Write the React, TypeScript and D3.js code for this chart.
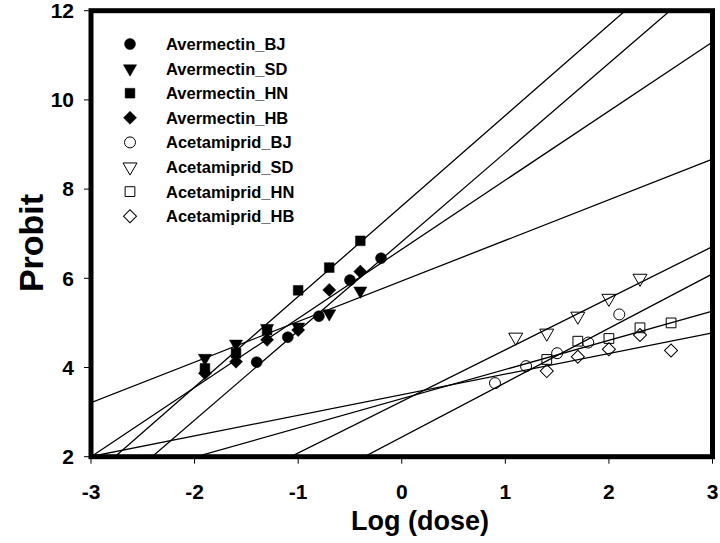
import React from "react";
import * as d3 from "d3";

// ---- data ----
const seriesNames = [
  "Avermectin_BJ",
  "Avermectin_SD",
  "Avermectin_HN",
  "Avermectin_HB",
  "Acetamiprid_BJ",
  "Acetamiprid_SD",
  "Acetamiprid_HN",
  "Acetamiprid_HB",
];

const avBJx = [-1.4, -1.1, -0.8, -0.5, -0.2];
const avBJy = [4.12, 4.68, 5.15, 5.96, 6.45];
const avSDx = [-1.9, -1.6, -1.3, -1.0, -0.7, -0.4];
const avSDy = [4.21, 4.53, 4.88, 4.91, 5.21, 5.72];
const avHNx = [-1.9, -1.6, -1.3, -1.0, -0.7, -0.4];
const avHNy = [3.98, 4.32, 4.84, 5.73, 6.24, 6.84];
const avHBx = [-1.9, -1.6, -1.3, -1.0, -0.7, -0.4];
const avHBy = [3.87, 4.13, 4.62, 4.84, 5.74, 6.15];
const acBJx = [0.9, 1.2, 1.5, 1.8, 2.1];
const acBJy = [3.65, 4.03, 4.32, 4.56, 5.19];
const acSDx = [1.1, 1.4, 1.7, 2.0, 2.3];
const acSDy = [4.68, 4.77, 5.15, 5.55, 6.0];
const acHNx = [1.4, 1.7, 2.0, 2.3, 2.6];
const acHNy = [4.18, 4.59, 4.65, 4.89, 5.0];
const acHBx = [1.4, 1.7, 2.0, 2.3, 2.6];
const acHBy = [3.92, 4.24, 4.41, 4.73, 4.38];

// regression lines: probit = intercept + slope * log(dose)
const lineSlopes = [2.0, 0.91, 2.03, 1.55, 1.22, 1.157, 0.655, 0.462];
const lineIntercepts = [6.82, 5.94, 7.62, 6.65, 2.44, 3.24, 3.3, 3.39];

const xTicks = [-3, -2, -1, 0, 1, 2, 3];
const yTicks = [2, 4, 6, 8, 10, 12];

const seriesX = [avBJx, avSDx, avHNx, avHBx, acBJx, acSDx, acHNx, acHBx];
const seriesY = [avBJy, avSDy, avHNy, avHBy, acBJy, acSDy, acHNy, acHBy];

// ---- layout ----
const W = 720;
const H = 543;
const left = 91;
const right = 712.5;
const top = 10.7;
const bottom = 456.7;
const FONT = "'Liberation Sans', Arial, sans-serif";

const x = d3.scaleLinear().domain([-3, 3]).range([left, right]);
const y = d3.scaleLinear().domain([2, 12]).range([bottom, top]);

type Shape = "circle" | "tri" | "square" | "diamond";
const shapes: Shape[] = ["circle", "tri", "square", "diamond", "circle", "tri", "square", "diamond"];

function markerPath(s: Shape, filled: boolean): { d: string; rot: number } {
  if (s === "circle") return { d: d3.symbol().type(d3.symbolCircle).size(filled ? 95 : 95)()!, rot: 0 };
  if (s === "tri") return { d: d3.symbol().type(d3.symbolTriangle).size(filled ? 75 : 85)()!, rot: 180 };
  if (s === "square") return { d: d3.symbol().type(d3.symbolSquare).size(filled ? 95 : 95)()!, rot: 0 };
  return { d: d3.symbol().type(d3.symbolSquare).size(filled ? 85 : 85)()!, rot: 45 };
}

function Marker({ cx, cy, i }: { cx: number; cy: number; i: number }) {
  const filled = i < 4;
  const { d, rot } = markerPath(shapes[i], filled);
  return (
    <path
      d={d}
      transform={`translate(${cx},${cy}) rotate(${rot})`}
      fill={filled ? "#000" : "none"}
      stroke="#000"
      strokeWidth={filled ? 0.5 : 1}
    />
  );
}

export default function App() {
  return (
    <svg
      width={W}
      height={H}
      style={{ position: "absolute", left: 0, top: 0, background: "#fff" }}
      fontFamily={FONT}
    >
      <defs>
        <clipPath id="plotclip">
          <rect x={left} y={top} width={right - left} height={bottom - top} />
        </clipPath>
      </defs>
      <rect x={0} y={0} width={W} height={H} fill="#fff" />

      {/* regression lines */}
      <g clipPath="url(#plotclip)">
        {lineSlopes.map((s, i) => {
          const pts: [number, number][] = [-3, 3].map((v) => [x(v), y(lineIntercepts[i] + s * v)]);
          return (
            <path key={i} d={d3.line()(pts)!} stroke="#000" strokeWidth={1.3} fill="none" />
          );
        })}
      </g>

      {/* data markers */}
      {seriesX.map((xs, i) =>
        xs.map((v, k) => <Marker key={`${i}-${k}`} cx={x(v)} cy={y(seriesY[i][k])} i={i} />)
      )}

      {/* frame */}
      <rect x={left} y={top} width={right - left} height={bottom - top} fill="none" stroke="#000" strokeWidth={5} />

      {/* y ticks */}
      {yTicks.map((t) => (
        <g key={t}>
          <line x1={left - 7} x2={left} y1={y(t)} y2={y(t)} stroke="#000" strokeWidth={1} />
          <text x={left - 17} y={y(t)} dy="0.35em" textAnchor="end" fontSize={21} fontWeight="bold">
            {t}
          </text>
        </g>
      ))}

      {/* x ticks */}
      {xTicks.map((t) => (
        <g key={t}>
          <line x1={x(t)} x2={x(t)} y1={bottom} y2={bottom + 7} stroke="#000" strokeWidth={1} />
          <text x={x(t)} y={499} textAnchor="middle" fontSize={21} fontWeight="bold">
            {t}
          </text>
        </g>
      ))}

      {/* axis titles */}
      <text x={420} y={530} textAnchor="middle" fontSize={27} fontWeight="bold">
        Log (dose)
      </text>
      <text transform={`translate(43,243) rotate(-90)`} textAnchor="middle" fontSize={34} fontWeight="bold">
        Probit
      </text>

      {/* legend */}
      {seriesNames.map((name, i) => {
        const ly = 44 + i * 24.6;
        return (
          <g key={name}>
            <Marker cx={130} cy={ly} i={i} />
            <text x={166} y={ly} dy="0.36em" fontSize={16.5} fontWeight="bold">
              {name}
            </text>
          </g>
        );
      })}
    </svg>
  );
}
